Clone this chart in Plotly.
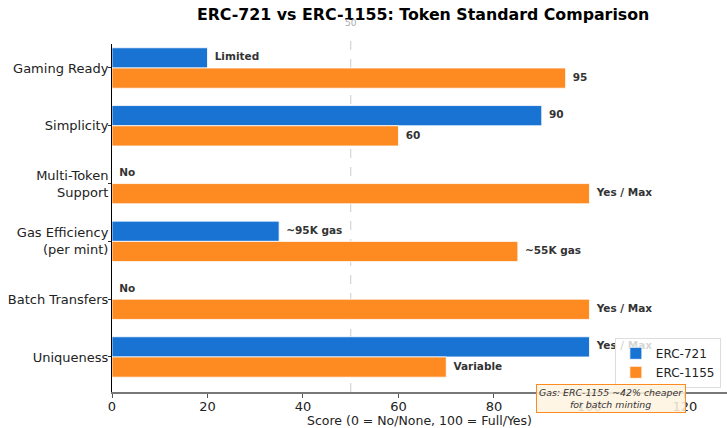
import plotly.graph_objects as go

categories = ["Gaming Ready", "Simplicity", "Multi-Token<br>Support",
              "Gas Efficiency<br>(per mint)", "Batch Transfers", "Uniqueness"]
erc721_values = [20, 90, 0, 35, 0, 100]
erc1155_values = [95, 60, 100, 85, 100, 70]
erc721_labels = ["Limited", "90", "No", "~95K gas", "No", "Yes / Max"]
erc1155_labels = ["95", "60", "Yes / Max", "~55K gas", "Yes / Max", "Variable"]
x_ticks = [0, 20, 40, 60, 80, 100, 120]

BLUE = "#1873D3"
ORANGE = "#FE8A22"
FONT = "DejaVu Sans"

pos = list(range(len(categories)))
off = 0.175
label_pad = 1.5

fig = go.Figure()
fig.add_trace(go.Bar(
    y=[p - off for p in pos], x=erc721_values, orientation="h", width=0.35,
    name="ERC-721", marker=dict(color=BLUE, line=dict(color="white", width=0.8)),
))
fig.add_trace(go.Bar(
    y=[p + off for p in pos], x=erc1155_values, orientation="h", width=0.35,
    name="ERC-1155", marker=dict(color=ORANGE, line=dict(color="white", width=0.8)),
))
fig.add_trace(go.Scatter(
    y=[p - off for p in pos], x=[v + label_pad for v in erc721_values],
    mode="text", text=erc721_labels, textposition="middle right",
    textfont=dict(family=FONT, size=10.5, color="#333333", weight="bold"),
    showlegend=False, hoverinfo="skip", cliponaxis=False,
))
fig.add_trace(go.Scatter(
    y=[p + off for p in pos], x=[v + label_pad for v in erc1155_values],
    mode="text", text=erc1155_labels, textposition="middle right",
    textfont=dict(family=FONT, size=10.5, color="#333333", weight="bold"),
    showlegend=False, hoverinfo="skip", cliponaxis=False,
))

# reference line at 50
fig.add_shape(type="line", x0=50, x1=50, xref="x", yref="paper", y0=0, y1=1.03,
              line=dict(color="#cccccc", width=1, dash="dash"), layer="below")
fig.add_annotation(x=50, xref="x", y=1.04, yref="paper", text="50", showarrow=False,
                   yanchor="bottom", font=dict(family=FONT, size=9, color="#aaaaaa"))

fig.add_annotation(
    x=104.5, xref="x", y=-0.02, yref="paper",
    text="<i>Gas: ERC-1155 ~42% cheaper<br>for batch minting</i>",
    showarrow=False, font=dict(family=FONT, size=9.4, color="#333333"),
    bgcolor="rgba(255,243,224,0.85)", bordercolor=ORANGE, borderwidth=1, borderpad=2,
    xanchor="center", yanchor="middle",
)

fig.update_layout(
    width=727, height=428,
    margin=dict(l=112, r=0, t=44, b=36, autoexpand=False),
    paper_bgcolor="white", plot_bgcolor="white",
    font=dict(family=FONT, size=13, color="#222222"),
    title=dict(text="<b>ERC-721 vs ERC-1155: Token Standard Comparison</b>",
               x=0.582, xanchor="center", y=0.967, yanchor="middle",
               font=dict(family=FONT, size=15.8, color="black")),
    barmode="overlay",
    showlegend=True,
    legend=dict(x=0.99, y=0.012, xanchor="right", yanchor="bottom",
                bgcolor="rgba(255,255,255,0.8)", bordercolor="#dddddd", borderwidth=1,
                font=dict(family=FONT, size=12), traceorder="normal",
                tracegroupgap=0),
)
fig.update_xaxes(
    range=[0, 128.8], tickvals=x_ticks, ticks="outside", ticklen=4, tickcolor="#555555",
    showgrid=False, zeroline=False, showline=True, linecolor="#777777", linewidth=1.5,
    ticklabelstandoff=-2,
    title=dict(text="Score (0 = No/None, 100 = Full/Yes)", standoff=0,
               font=dict(family=FONT, size=12.5)),
    tickfont=dict(family=FONT, size=13),
)
fig.update_yaxes(
    range=[5.606, -0.415], tickvals=pos, ticktext=categories,
    ticks="outside", ticklen=3, tickcolor="#333333",
    showgrid=False, zeroline=False, showline=True, linecolor="black", linewidth=1,
    ticklabelstandoff=-3,
    tickfont=dict(family=FONT, size=13),
)

fig.write_html("out.html", post_script="document.body.style.margin='0';",
               config={"displayModeBar": False})
